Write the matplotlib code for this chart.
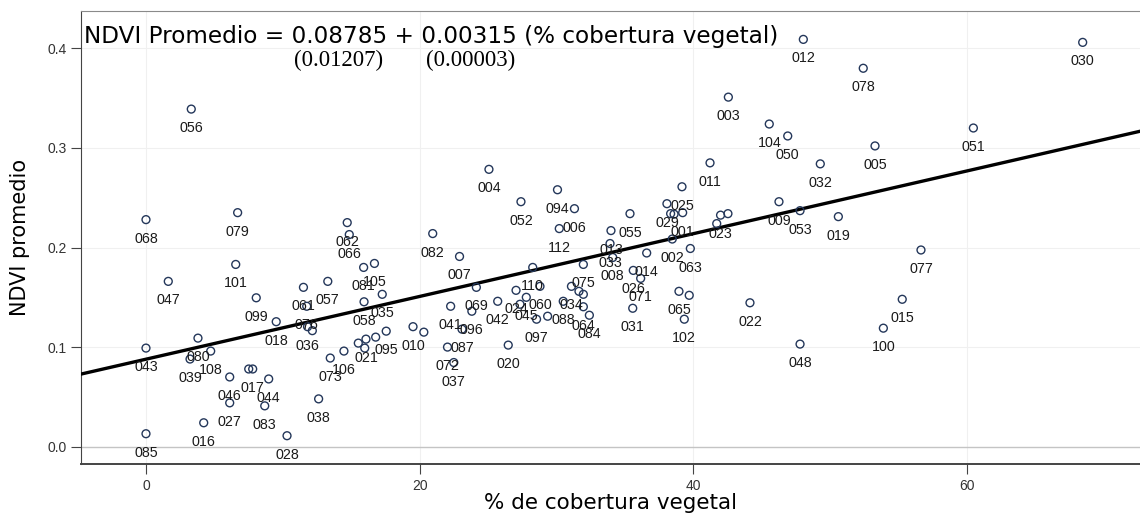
import matplotlib
matplotlib.use("agg")
import matplotlib.pyplot as plt
import numpy as np

# point ids ("" = label hidden under neighbours in the original)
ids = [
    "056", "068", "079", "062", "066", "004", "052", "094", "006", "112",
    "055", "013", "033", "008", "014", "026", "071", "031", "065", "",
    "102", "063", "002", "029", "025", "011", "001", "", "", "023",
    "", "", "012", "078", "003", "104", "050", "032", "009", "053",
    "019", "030", "051", "005", "077", "015", "100", "022", "048", "082",
    "007", "069", "041", "096", "087", "072", "037", "042", "020", "110",
    "060", "024", "045", "", "097", "088", "", "034", "075", "",
    "", "064", "084", "081", "105", "035", "058", "095", "021", "",
    "", "", "010", "", "106", "061", "057", "076", "036", "",
    "073", "101", "047", "099", "018", "043", "080", "108", "039", "017",
    "", "046", "044", "027", "083", "016", "085", "028", "038",
]
cobertura = [
    3.31, 0.0, 6.70, 14.71, 14.86, 25.07, 27.41, 30.08, 31.32, 30.21,
    35.38, 33.99, 33.92, 34.12, 36.60, 35.62, 36.16, 35.58, 38.96, 39.71,
    39.35, 39.79, 38.47, 38.08, 39.18, 41.23, 39.23, 38.35, 38.60, 42.00,
    42.54, 41.72, 48.05, 52.43, 42.57, 45.56, 46.91, 49.29, 46.27, 47.81,
    50.61, 68.47, 60.48, 53.29, 56.65, 55.28, 53.90, 44.15, 47.81, 20.96,
    22.92, 24.15, 22.27, 23.82, 23.10, 22.04, 22.50, 25.71, 26.48, 28.27,
    28.80, 27.05, 27.80, 27.34, 28.55, 30.50, 29.36, 31.10, 31.97, 31.65,
    31.97, 31.97, 32.41, 15.91, 16.70, 17.27, 15.94, 17.56, 16.08, 16.79,
    15.52, 15.99, 19.52, 20.31, 14.47, 11.51, 13.29, 11.75, 11.81, 12.16,
    13.47, 6.56, 1.63, 8.06, 9.52, 0.0, 3.80, 4.73, 3.22, 7.80,
    7.51, 6.12, 8.97, 6.12, 8.68, 4.22, 0.0, 10.31, 12.62,
]
ndvi = [
    0.339, 0.228, 0.235, 0.225, 0.213, 0.2785, 0.246, 0.258, 0.239, 0.219,
    0.234, 0.217, 0.204, 0.190, 0.1945, 0.177, 0.169, 0.139, 0.156, 0.152,
    0.128, 0.199, 0.2085, 0.244, 0.261, 0.285, 0.235, 0.234, 0.2335, 0.2325,
    0.234, 0.224, 0.409, 0.380, 0.351, 0.324, 0.312, 0.284, 0.246, 0.237,
    0.231, 0.406, 0.320, 0.302, 0.1975, 0.148, 0.119, 0.1445, 0.103, 0.214,
    0.191, 0.160, 0.141, 0.136, 0.118, 0.100, 0.0845, 0.146, 0.102, 0.180,
    0.161, 0.157, 0.150, 0.143, 0.128, 0.146, 0.131, 0.161, 0.183, 0.156,
    0.153, 0.1405, 0.132, 0.180, 0.184, 0.153, 0.1455, 0.116, 0.108, 0.110,
    0.104, 0.099, 0.1205, 0.115, 0.096, 0.160, 0.166, 0.141, 0.1205, 0.1165,
    0.089, 0.183, 0.166, 0.1495, 0.1255, 0.099, 0.109, 0.096, 0.088, 0.078,
    0.078, 0.070, 0.068, 0.044, 0.041, 0.024, 0.013, 0.011, 0.048,
]

intercept = 0.08785
slope = 0.00315
se_intercept = "(0.01207)"
se_slope = "(0.00003)"
equation = "NDVI Promedio = 0.08785 + 0.00315 (% cobertura vegetal)"

x_ticks = [0, 20, 40, 60]
y_ticks = [0.0, 0.1, 0.2, 0.3, 0.4]

fig = plt.figure(figsize=(11.4, 5.17), dpi=100)
ax = fig.add_axes([81 / 1140, 53 / 517, 1 - 81 / 1140, 453 / 517])

xmin, xmax = -4.75, 72.66
ymin, ymax = -0.0174, 0.4375
ax.set_xlim(xmin, xmax)
ax.set_ylim(ymin, ymax)

# light grid + reference line at 0
for t in x_ticks:
    ax.axvline(t, color="#f0f0f0", lw=0.8, zorder=0)
for t in y_ticks[1:]:
    ax.axhline(t, color="#f0f0f0", lw=0.8, zorder=0)
ax.axhline(0, color="#c4c4c4", lw=1.0, zorder=0)

# fitted line
xx = np.array([xmin, xmax])
ax.plot(xx, intercept + slope * xx, color="black", lw=2.4, zorder=3)

ax.scatter(cobertura, ndvi, s=32, facecolors="none", edgecolors="#24375a",
           linewidths=1.0, zorder=4)
for lab, x, y in zip(ids, cobertura, ndvi):
    if lab:
        ax.annotate(lab, (x, y), xytext=(0, -13.7), textcoords="offset points",
                    ha="center", va="center", fontsize=10.3,
                    family="Liberation Sans", color="#1a1a1a", zorder=5)

ax.set_xticks(x_ticks)
ax.set_yticks(y_ticks)
ax.set_yticklabels([f"{v:.1f}" for v in y_ticks])
ax.tick_params(axis="both", direction="out", length=7, width=0.8,
               color="#444444", labelsize=10, labelcolor="#333333")
ax.tick_params(axis="x", pad=4)
for lab in ax.get_xticklabels() + ax.get_yticklabels():
    lab.set_family("Liberation Sans")

ax.spines["right"].set_visible(False)
ax.spines["top"].set_color("#8a8a8a")
ax.spines["left"].set_color("#444444")
ax.spines["bottom"].set_color("#444444")
ax.spines["bottom"].set_linewidth(1.4)

ax.set_xlabel("% de cobertura vegetal", fontsize=15.5, labelpad=0)
ax.set_ylabel("NDVI promedio", fontsize=15, labelpad=12)

fig.text(84 / 1140, 1 - 37 / 517, equation, fontsize=16.7, va="center",
         ha="left")
fig.text(339 / 1140, 1 - 60 / 517, se_intercept, fontsize=16.5,
         family="Liberation Serif", va="center", ha="center")
fig.text(471 / 1140, 1 - 60 / 517, se_slope, fontsize=16.5,
         family="Liberation Serif", va="center", ha="center")

fig.savefig("out.png", dpi=100)
